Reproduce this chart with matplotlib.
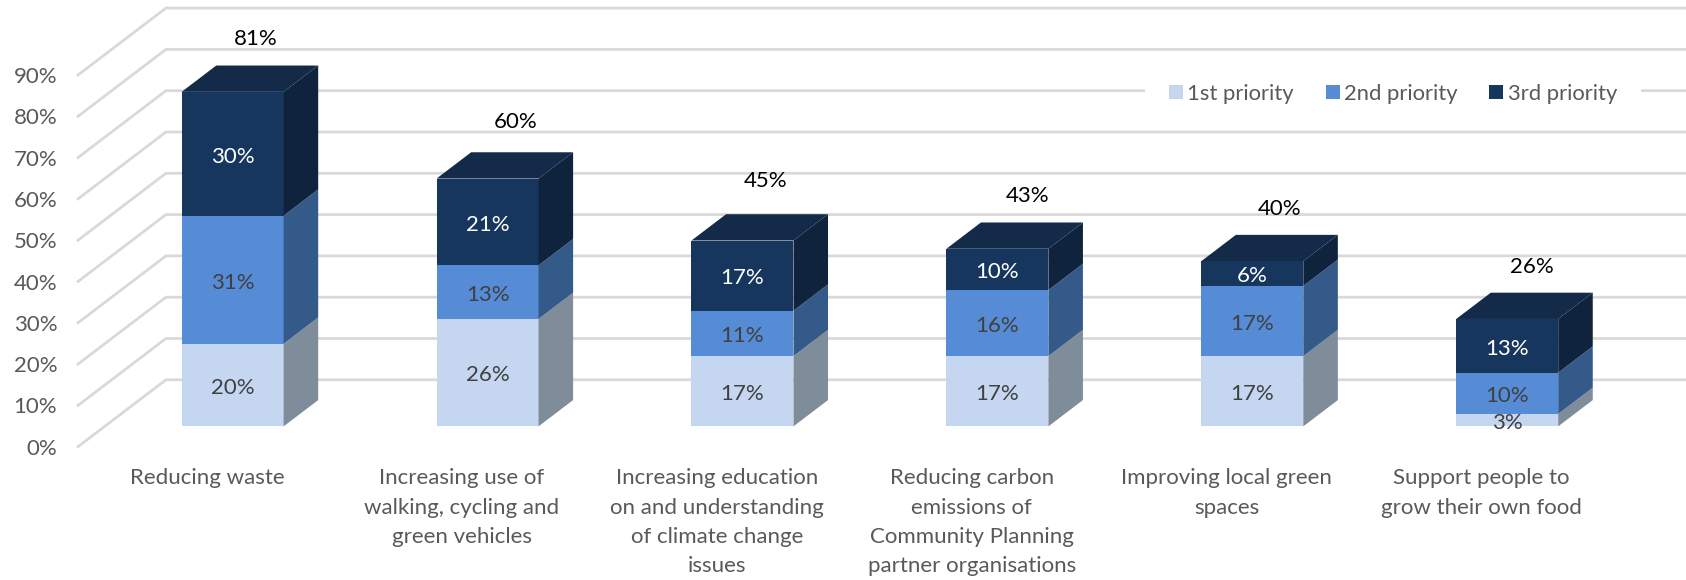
import matplotlib
matplotlib.use("Agg")
import matplotlib.pyplot as plt
from matplotlib.ticker import FixedLocator

# ---- data ----
categories = [
    "Reducing waste",
    "Increasing use of\nwalking, cycling and\ngreen vehicles",
    "Increasing education\non and understanding\nof climate change\nissues",
    "Reducing carbon\nemissions of\nCommunity Planning\npartner organisations",
    "Improving local green\nspaces",
    "Support people to\ngrow their own food",
]
first_priority = [20, 26, 17, 17, 17, 3]
second_priority = [31, 13, 11, 16, 17, 10]
third_priority = [30, 21, 17, 10, 6, 13]
totals = [81, 60, 45, 43, 40, 26]
y_ticks = [0, 10, 20, 30, 40, 50, 60, 70, 80, 90]
series_names = ["1st priority", "2nd priority", "3rd priority"]

# ---- style / layout ----
W, H = 1686, 580
plt.rcParams["font.family"] = ["Lato", "DejaVu Sans"]
FS = 16
front = ["#C5D7F0", "#568BD5", "#17365D"]
side = ["#7F8C99", "#345A89", "#0F233D"]
top_col = "#132A49"
grid_col = "#D9D9D9"
text_col = "#595959"
total_dx = [23, 28, 23, 30, 27, 25]     # px, from the bar centre
total_dy = [27, 30, 33, 26, 26, 26]     # px, above the bar's back top edge

fig = plt.figure(figsize=(W / 100, H / 100), dpi=100, facecolor="white")
ax = fig.add_axes([78 / W, 1 - 446.7 / H, (1609 - 78) / W, (446.7 - 75) / H])
ax.set_xlim(-0.506, 5.5)
ax.set_ylim(0, 90)
ax.patch.set_visible(False)
for s in ax.spines.values():
    s.set_visible(False)

# oblique projection: depth 0..1 maps onto a data-space shift
DX, DY = 0.345, 16.2
d_front, d_back = 0.304, 0.697
xl, xr = -0.506, 5.5
BAR_SHIFT = -0.0042


def proj(x, y, d):
    return x + DX * d, y + DY * d


# walls' gridlines
for v in y_ticks:
    x0, y0 = proj(xl, v, 0)
    x1, y1 = proj(xl, v, 1)
    x2, y2 = proj(xr, v, 1)
    ax.plot([x0, x1, x2], [y0, y1, y2], color=grid_col, lw=2.0, zorder=1,
            clip_on=False, solid_joinstyle="miter")

# bars
w = 0.40
xs = list(range(len(categories)))
bx = [proj(x, 0, d_front)[0] + BAR_SHIFT for x in xs]
by = proj(0, 0, d_front)[1]
bottom = [by] * len(xs)
containers = []
sx = DX * (d_back - d_front)
sy = DY * (d_back - d_front)
for k, vals in enumerate([first_priority, second_priority, third_priority]):
    c = ax.bar(bx, vals, width=w, bottom=bottom, color=front[k], zorder=3,
               clip_on=False, label=series_names[k], linewidth=0)
    containers.append(c)
    for xc, b, v in zip(bx, bottom, vals):
        r = xc + w / 2
        ax.fill([r, r + sx, r + sx, r], [b, b + sy, b + v + sy, b + v],
                color=side[k], lw=0, zorder=3, clip_on=False)
    bottom = [b + v for b, v in zip(bottom, vals)]
    ax.bar_label(c, labels=[f"{v}%" for v in vals], label_type="center",
                 padding=-2, fontsize=FS,
                 color="white" if k == 2 else "#404040", zorder=5)

# top faces and total labels
for i, (xc, t) in enumerate(zip(bx, bottom)):
    l, r = xc - w / 2, xc + w / 2
    ax.fill([l, r, r + sx, l + sx], [t, t, t + sy, t + sy], color=top_col,
            lw=0, zorder=3, clip_on=False)
    ax.annotate(f"{totals[i]}%", xy=(xc, t + sy), xycoords="data",
                xytext=(total_dx[i] * 0.72, total_dy[i] * 0.72),
                textcoords="offset points", ha="center", va="center",
                fontsize=FS, color="black", zorder=6, annotation_clip=False)

# axes
ax.yaxis.set_major_locator(FixedLocator(y_ticks))
ax.set_yticklabels([f"{v}%" for v in y_ticks])
ax.set_xticks(xs)
ax.set_xticklabels(categories, linespacing=1.58)
ax.tick_params(axis="y", length=0, pad=15, labelsize=FS, labelcolor=text_col)
ax.tick_params(axis="x", length=0, pad=15.5, labelsize=FS, labelcolor=text_col)

# legend
leg = ax.legend(handles=[c for c in containers], loc="center", ncol=3,
                bbox_to_anchor=(((1137 + 1642) / 2 + 3.5) / W, 1 - 94 / H),
                bbox_transform=fig.transFigure, frameon=True, fancybox=False,
                edgecolor="none", facecolor="white", framealpha=1,
                fontsize=15.8, labelcolor=text_col, handlelength=0.63,
                handleheight=0.63, handletextpad=0.2, columnspacing=1.45,
                borderpad=0.4)
leg.set_zorder(2)
leg._legend_box.pad = 0
leg.get_frame().set_boxstyle("square", pad=1.1)

fig.savefig("out.png", dpi=100, facecolor="white")
